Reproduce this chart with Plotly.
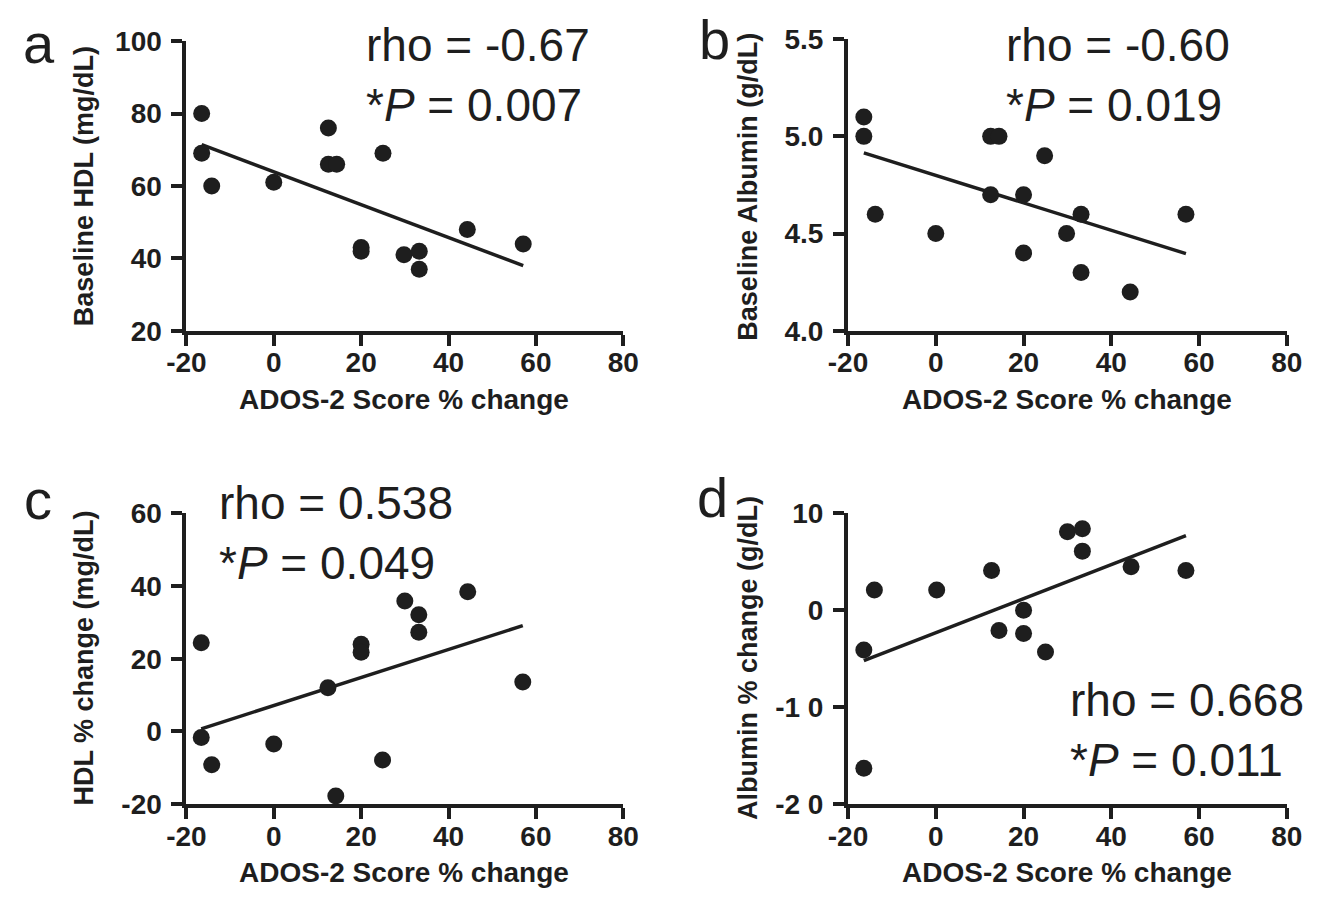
import plotly.graph_objects as go

# ---------------- data ----------------
x_a = [-16.5, -16.5, -14.2, 0, 12.5, 12.5, 14.4, 20, 20, 25, 29.8, 33.3, 33.3, 44.3, 57.1]
y_a = [80, 69, 60, 61, 76, 66, 66, 43, 42, 69, 41, 42, 37, 48, 44]
fit_x_a = [-16.5, 57.1]
fit_y_a = [71.4, 38.0]

x_b = [-16.4, -16.4, -13.8, 0, 12.5, 14.4, 12.5, 20, 20, 24.8, 29.8, 33.1, 33.1, 44.3, 57]
y_b = [5.1, 5.0, 4.6, 4.5, 5.0, 5.0, 4.7, 4.7, 4.4, 4.9, 4.5, 4.6, 4.3, 4.2, 4.6]
fit_x_b = [-16.4, 57]
fit_y_b = [4.915, 4.397]

x_c = [-16.6, -16.6, -14.2, 0, 12.4, 14.2, 20, 20, 24.9, 30, 33.2, 33.2, 44.4, 57]
y_c = [24.4, -1.7, -9.2, -3.5, 12, -17.8, 24, 21.8, -7.9, 35.9, 32.1, 27.3, 38.4, 13.6]
fit_x_c = [-16.6, 57]
fit_y_c = [0.7, 29.1]

x_d = [-16.4, -16.4, -14, 0.2, 12.7, 14.4, 20, 20, 25, 30, 33.4, 33.4, 44.5, 57]
y_d = [-4.1, -16.3, 2.1, 2.1, 4.1, -2.1, 0, -2.4, -4.3, 8.1, 8.4, 6.1, 4.5, 4.1]
fit_x_d = [-16.4, 57]
fit_y_d = [-5.2, 7.7]

x_ticks = [-20, 0, 20, 40, 60, 80]
x_ticktext = ["-20", "0", "20", "40", "60", "80"]
yticks_a = [20, 40, 60, 80, 100]
yticks_b = [4.0, 4.5, 5.0, 5.5]
yticktext_b = ["4.0", "4.5", "5.0", "5.5"]
yticks_c = [-20, 0, 20, 40, 60]
yticks_d = [-20, -10, 0, 10]
yticktext_d = ["-2 0", "-1 0", "0", "10"]

x_title = "ADOS-2 Score % change"
y_titles = ["Baseline HDL (mg/dL)", "Baseline Albumin (g/dL)",
            "HDL % change (mg/dL)", "Albumin % change (g/dL)"]
panel_letters = ["a", "b", "c", "d"]
stats = ["rho = -0.67<br>*<i>P</i> = 0.007", "rho = -0.60<br>*<i>P</i> = 0.019",
         "rho = 0.538<br>*<i>P</i> = 0.049", "rho = 0.668<br>*<i>P</i> = 0.011"]

# ---------------- layout ----------------
W, H = 1334, 906
INK = "#1e1e1e"
FONT = "Liberation Sans, Arial, Helvetica, sans-serif"

def px(v):
    return v / W

def py(v):
    return 1 - v / H

domains = {
    "a": ([px(171), px(620)], [py(327), py(27)]),
    "b": ([px(851), px(1302)], [py(327), py(25)]),
    "c": ([px(171), px(620)], [py(817), py(516)]),
    "d": ([px(851), px(1302)], [py(817), py(516)]),
}

fig = go.Figure()

panels = [
    ("a", x_a, y_a, fit_x_a, fit_y_a, [20, 100], yticks_a, [str(v) for v in yticks_a]),
    ("b", x_b, y_b, fit_x_b, fit_y_b, [4.0, 5.5], yticks_b, yticktext_b),
    ("c", x_c, y_c, fit_x_c, fit_y_c, [-20, 60], yticks_c, [str(v) for v in yticks_c]),
    ("d", x_d, y_d, fit_x_d, fit_y_d, [-20, 10], yticks_d, yticktext_d),
]

axis_common = dict(
    showline=True, linecolor=INK, linewidth=4, mirror=False,
    ticks="outside", ticklen=11, tickwidth=4, tickcolor=INK,
    showgrid=False, zeroline=False,
    tickfont=dict(family=FONT, size=28, color=INK, weight="bold"),
)

for i, (name, xs, ys, fx, fy, yr, yt, ytt) in enumerate(panels):
    n = "" if i == 0 else str(i + 1)
    xa, ya = "x" + n, "y" + n
    fig.add_trace(go.Scatter(x=fx, y=fy, mode="lines", xaxis=xa, yaxis=ya,
                             line=dict(color=INK, width=3.5), showlegend=False,
                             cliponaxis=False))
    fig.add_trace(go.Scatter(x=xs, y=ys, mode="markers", xaxis=xa, yaxis=ya,
                             marker=dict(color=INK, size=17, line=dict(width=0)),
                             showlegend=False, cliponaxis=False))
    xd, yd = domains[name]
    fig.layout["xaxis" + n] = dict(domain=xd, range=[-20, 80], tickvals=x_ticks,
                                   ticktext=x_ticktext, anchor=ya, ticklabelstandoff=-7,
                                   **axis_common)
    fig.layout["yaxis" + n] = dict(domain=yd, range=yr, tickvals=yt, ticktext=ytt,
                                   anchor=xa, ticklabelstandoff=4, **axis_common)

annotations = []
# x-axis titles
for cx, cy in [(395, 398), (1076, 398), (395, 888), (1076, 888)]:
    annotations.append(dict(text=x_title, xref="paper", yref="paper", x=px(cx), y=py(cy),
                            xanchor="center", yanchor="middle", showarrow=False,
                            font=dict(family=FONT, size=28, color=INK, weight="bold")))
# y-axis titles
for t, (cx, cy) in zip(y_titles, [(66, 177), (748, 178), (66, 666), (748, 666)]):
    annotations.append(dict(text=t, xref="paper", yref="paper", x=px(cx), y=py(cy),
                            xanchor="center", yanchor="middle", showarrow=False, textangle=-90,
                            font=dict(family=FONT, size=27, color=INK, weight="bold")))
# panel letters
for t, (cx, cy) in zip(panel_letters, [(20, 30), (714, 25), (19, 502), (712, 500)]):
    annotations.append(dict(text=t, xref="paper", yref="paper", x=px(cx), y=py(cy),
                            xanchor="center", yanchor="middle", showarrow=False,
                            font=dict(family=FONT, size=56, color=INK)))
# statistics
for t, (lx, ty) in zip(stats, [(354, 2), (1011, 2), (202, 476), (1077, 680)]):
    annotations.append(dict(text=t, xref="paper", yref="paper", x=px(lx), y=py(ty),
                            xanchor="left", yanchor="top", align="left", showarrow=False,
                            font=dict(family=FONT, size=46, color=INK)))

fig.update_layout(
    width=W, height=H, autosize=False,
    margin=dict(l=0, r=0, t=0, b=0, pad=0),
    paper_bgcolor="white", plot_bgcolor="white",
    annotations=annotations,
    font=dict(family=FONT, color=INK),
)

fig.write_html("out.html", config={"displayModeBar": False},
               post_script="document.body.style.margin='0';document.body.style.overflow='hidden';")
